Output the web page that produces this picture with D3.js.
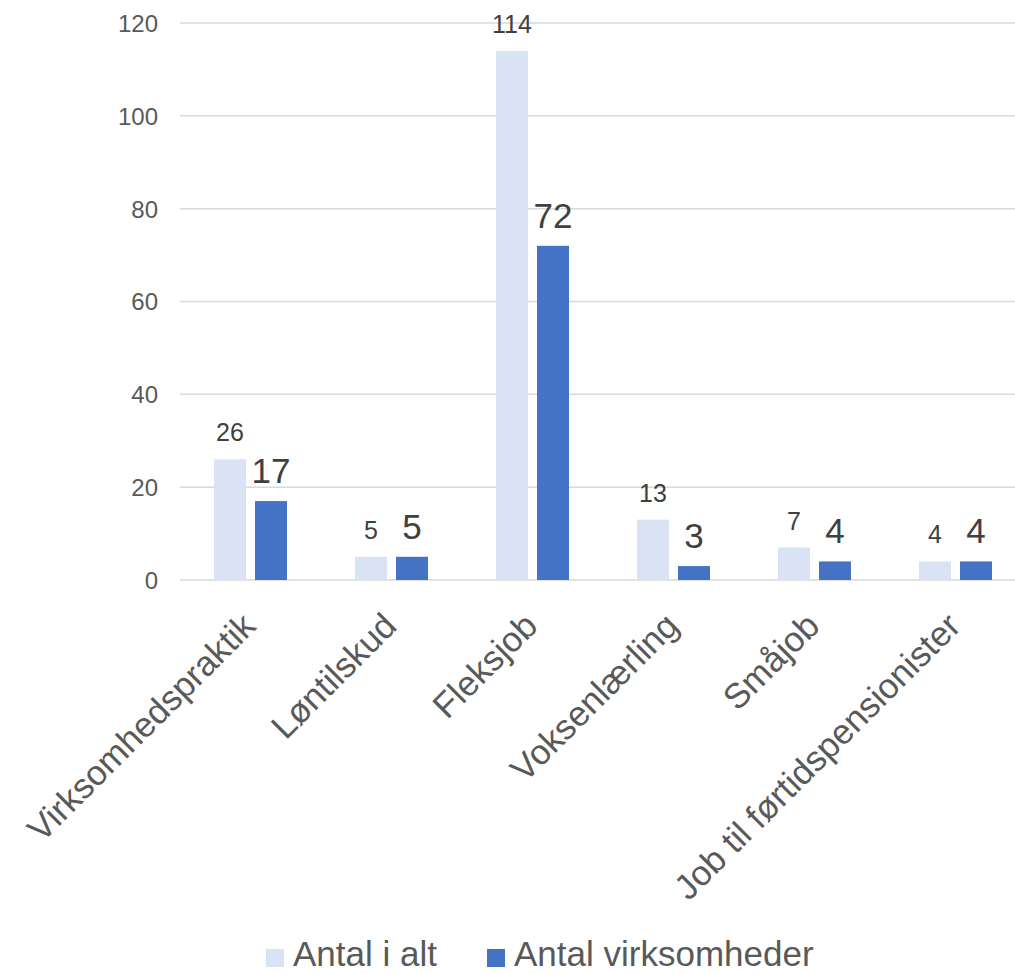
<!DOCTYPE html>
<html><head><meta charset="utf-8">
<script src="https://cdn.jsdelivr.net/npm/d3@7"></script>
<style>body{margin:0;background:#fff;} svg{display:block;}</style>
</head><body>
<script>
const categories = ["Virksomhedspraktik","Løntilskud","Fleksjob","Voksenlærling","Småjob","Job til førtidspensionister"];
const seriesNames = ["Antal i alt","Antal virksomheder"];
const antalIAlt = [26,5,114,13,7,4];
const antalVirksomheder = [17,5,72,3,4,4];
const yTicks = [0,20,40,60,80,100,120];
const colors = ["#DAE3F3","#4472C4"];

const W = 1015, H = 974;
const svg = d3.select("body").append("svg").attr("width",W).attr("height",H)
  .style("font-family","'Liberation Sans', Arial, sans-serif");

const y = d3.scaleLinear().domain([0,120]).range([580,23]);
const x0 = d3.scaleBand().domain(categories).range([180,1026]);
const x1 = d3.scaleBand().domain(seriesNames).range([34,107]).paddingInner(0.22).paddingOuter(0);

// gridlines
svg.append("g").selectAll("line").data(yTicks).join("line")
  .attr("x1",180).attr("x2",W).attr("y1",d=>y(d)).attr("y2",d=>y(d))
  .attr("stroke","#D9D9D9").attr("stroke-width",1.5);

// y axis labels
const yAxis = d3.axisLeft(y).tickValues(yTicks).tickSize(0).tickPadding(0);
const ya = svg.append("g").attr("transform","translate(158,0)").call(yAxis);
ya.select(".domain").remove();
ya.selectAll("text").attr("fill","#595959").style("font-size","24px")
  .style("font-family","'Liberation Sans', Arial, sans-serif").attr("dy","0.35em");

const data = categories.map((c,i)=>({cat:c, vals:[antalIAlt[i], antalVirksomheder[i]]}));

const groups = svg.append("g").selectAll("g").data(data).join("g")
  .attr("transform",d=>`translate(${x0(d.cat)},0)`);

groups.selectAll("rect").data(d=>d.vals.map((v,j)=>({s:seriesNames[j],v,j}))).join("rect")
  .attr("x",d=>x1(d.s)).attr("width",x1.bandwidth())
  .attr("y",d=>y(d.v)).attr("height",d=>y(0)-y(d.v))
  .attr("fill",d=>colors[d.j]);

groups.selectAll("text.lbl").data(d=>d.vals.map((v,j)=>({s:seriesNames[j],v,j}))).join("text")
  .attr("class","lbl")
  .attr("x",d=>x1(d.s)+x1.bandwidth()/2)
  .attr("y",d=>y(d.v)-18)
  .attr("text-anchor","middle")
  .attr("fill","#404040")
  .style("font-size",d=>d.j===0?"25px":"35px")
  .text(d=>d.v);

// category labels
svg.append("g").selectAll("text").data(categories).join("text")
  .attr("transform",d=>`translate(${x0(d)+x0.bandwidth()/2+7},628) rotate(-45)`)
  .attr("text-anchor","end")
  .attr("fill","#595959")
  .style("font-size","35px")
  .text(d=>d);

// legend
const legend = svg.append("g");
const legX = [266, 487];
seriesNames.forEach((s,i)=>{
  legend.append("rect").attr("x",legX[i]).attr("y",949).attr("width",18).attr("height",18).attr("fill",colors[i]);
  legend.append("text").attr("x",legX[i]+27).attr("y",966).attr("fill","#595959")
    .style("font-size","35px").text(s);
});
</script>
</body></html>
